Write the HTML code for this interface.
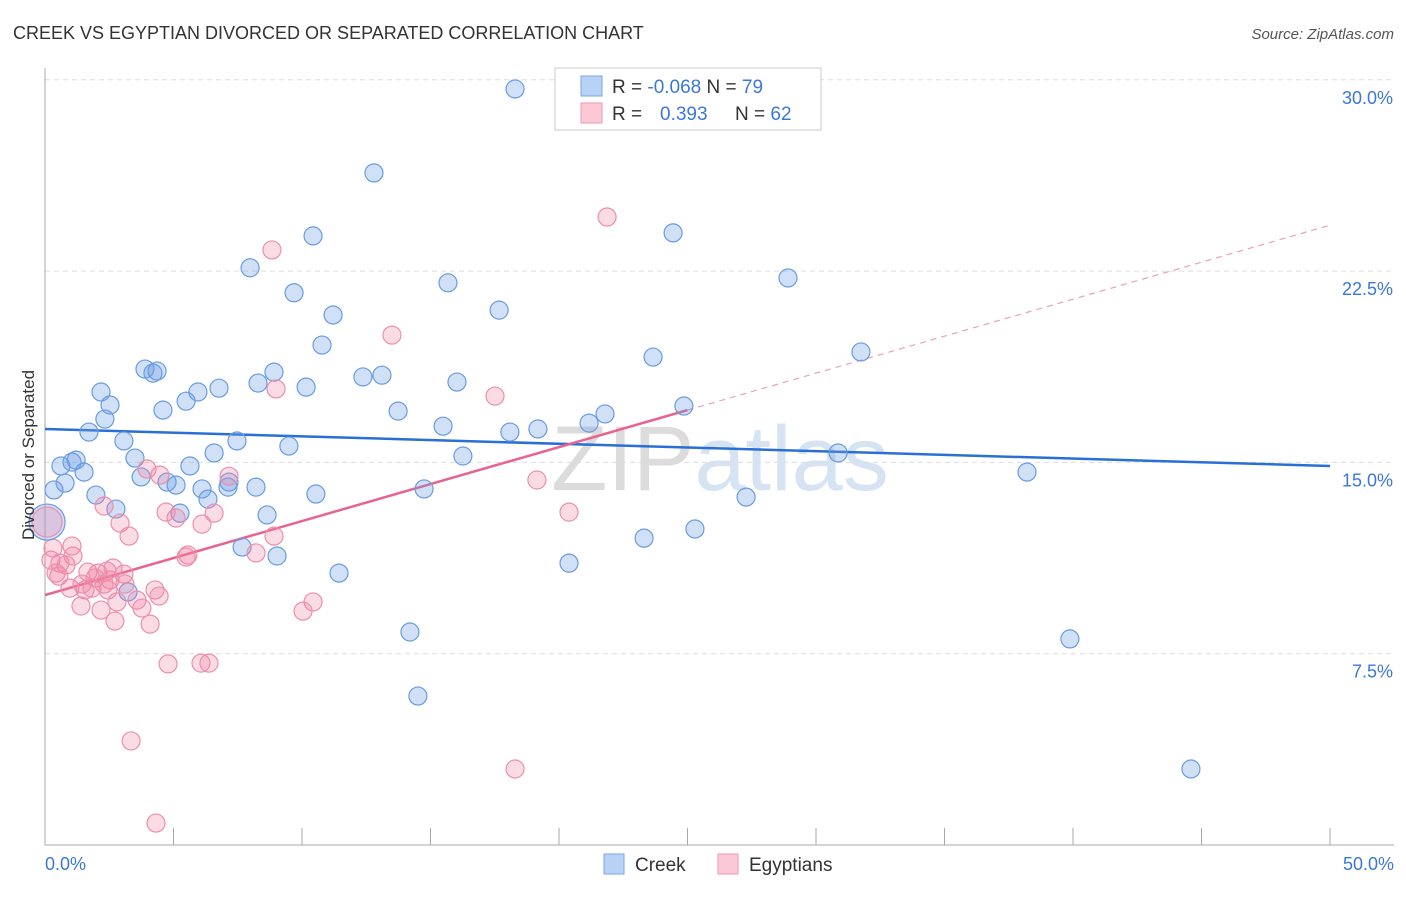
<!DOCTYPE html>
<html><head><meta charset="utf-8"><style>
body{margin:0;background:#fff;font-family:"Liberation Sans",sans-serif}
svg text{font-family:"Liberation Sans",sans-serif}
</style></head><body>
<svg id="chart" width="1406" height="892" viewBox="0 0 1406 892" xmlns="http://www.w3.org/2000/svg">
<text x="13" y="39" font-size="18" fill="#333">CREEK VS EGYPTIAN DIVORCED OR SEPARATED CORRELATION CHART</text>
<text x="1394" y="39" font-size="15" fill="#555" text-anchor="end" font-style="italic">Source: ZipAtlas.com</text>
<text x="720" y="490" font-size="92" fill="#e6e6e6" text-anchor="middle" font-family="Liberation Serif"><tspan fill="#dcdcdc">ZIP</tspan><tspan fill="#d6e3f3" font-family="Liberation Sans">atlas</tspan></text>
<g id="grid"></g>
<g id="axes"></g>
<g id="trends"></g>
<g id="points"></g>
<text transform="translate(34,455) rotate(-90)" font-size="17" fill="#333" text-anchor="middle">Divorced or Separated</text>
<g>
<rect x="555" y="68" width="266" height="62" fill="#fff" stroke="#ccc"/>
<rect x="581" y="76" width="21" height="20" fill="#b8d2f5" stroke="#7aa6e4"/>
<rect x="581" y="103" width="21" height="20" fill="#fcc8d6" stroke="#ee9ab2"/>
<text x="612" y="93" font-size="19" fill="#333">R = <tspan fill="#3b78d6">-0.068</tspan>   N = <tspan fill="#3b78d6">79</tspan></text>
<text x="612" y="120" font-size="19" fill="#333">R =    <tspan fill="#3b78d6" x="660">0.393</tspan><tspan x="735">N = </tspan><tspan fill="#3b78d6">62</tspan></text>
</g>
<g>
<rect x="604" y="854" width="20" height="20" fill="#b8d2f5" stroke="#7aa6e4"/>
<text x="635" y="871" font-size="19" fill="#333">Creek</text>
<rect x="718" y="854" width="20" height="20" fill="#fcc8d6" stroke="#ee9ab2"/>
<text x="749" y="871" font-size="19" fill="#333">Egyptians</text>
</g>
</svg>
<script>
const creekX=[18.29,12.80,10.43,24.44,7.98,15.68,9.69,28.91,17.67,11.21,10.78,23.66,31.75,3.89,4.20,4.36,8.91,12.37,13.11,8.29,10.16,6.77,5.95,2.18,5.49,2.53,16.03,4.59,13.74,2.33,21.17,21.79,24.86,15.49,18.09,19.18,1.71,3.07,7.47,9.49,3.50,6.58,16.26,30.86,1.05,1.21,0.62,1.52,5.64,3.74,38.21,0.78,0.35,4.75,5.10,1.98,7.16,8.21,6.11,7.12,10.54,14.75,6.34,2.76,5.25,8.64,27.28,25.29,23.31,7.67,9.03,20.39,11.44,3.23,14.20,39.88,14.51,44.59];
const creekY=[29.64,26.35,23.88,24.00,22.63,22.04,21.65,22.23,20.97,20.78,19.60,19.13,19.33,18.66,18.50,18.58,18.54,18.35,18.42,18.11,17.95,17.91,17.76,17.76,17.40,17.25,18.15,17.05,17.01,16.70,16.54,16.90,17.21,16.42,16.19,16.31,16.19,15.84,15.84,15.64,15.17,15.37,15.25,15.37,15.01,15.09,14.86,14.62,14.86,14.43,14.62,14.19,13.92,14.23,14.11,13.72,14.23,14.03,13.96,14.03,13.76,13.96,13.56,13.17,13.01,12.94,13.64,12.39,12.03,11.68,11.33,11.05,10.66,9.92,8.35,8.08,5.84,2.98];
const egyX=[21.87,8.83,13.50,8.99,17.51,3.97,4.47,7.16,2.30,4.71,5.10,6.58,2.92,6.11,19.14,20.39,8.91,3.27,1.05,5.49,5.56,8.21,1.09,0.23,0.58,0.82,0.43,1.67,2.06,1.95,2.41,2.65,3.07,2.53,0.54,0.97,1.56,1.83,2.30,3.11,4.28,2.18,1.40,2.80,3.58,3.77,4.44,2.72,4.09,10.43,10.04,4.79,6.07,6.38,3.35,18.29,4.32,0.31,2.45,1.44];
const egyY=[24.62,23.33,19.99,17.88,17.60,14.74,14.50,14.46,13.29,13.05,12.82,13.01,12.62,12.58,14.31,13.05,12.11,12.11,11.72,11.29,11.37,11.45,11.33,11.17,11.05,10.98,10.66,10.70,10.66,10.47,10.74,10.86,10.62,10.39,10.54,10.07,10.00,10.07,10.23,10.23,10.00,9.21,9.37,9.53,9.60,9.29,9.76,8.78,8.66,9.53,9.17,7.10,7.13,7.13,4.08,2.98,0.86,11.64,10.00,10.23];
const bigPoint=[0.08,12.66];
const creekTrend=[16.31,14.86];   // y at x=0 and x=50
const egyTrend=[9.80,24.30];      // y at x=0 and x=50
const egySolidEnd=25;             // solid part ends at this x
const yTicks=[7.5,15,22.5,30];
const yTickLabels=["7.5%","15.0%","22.5%","30.0%"];
const xTicks=[0,5,10,15,20,25,30,35,40,45,50];
const xEndLabels=["0.0%","50.0%"];

const NS="http://www.w3.org/2000/svg";
const X=v=>45+v/50*1285;
const Y=v=>845-v/7.5*191.3;
function mk(tag,attrs,parent){const e=document.createElementNS(NS,tag);for(const k in attrs)e.setAttribute(k,attrs[k]);parent.appendChild(e);return e;}
const grid=document.getElementById('grid'),axes=document.getElementById('axes'),trends=document.getElementById('trends'),pts=document.getElementById('points');
yTicks.forEach((t,i)=>{
  const l=mk('line',{x1:45,x2:1394,y1:Y(t),y2:Y(t),stroke:'#ddd','stroke-dasharray':'5,4'},grid);
  
  
  const tx=mk('text',{x:1393,y:Y(t)+24,'font-size':18,fill:'#3b78d6','text-anchor':'end'},axes);
  tx.textContent=yTickLabels[i];
  
  
});
const ya=mk('line',{x1:45,x2:45,y1:68,y2:845,stroke:'#aaa'},axes);


const xa=mk('line',{x1:45,x2:1394,y1:845,y2:845,stroke:'#aaa'},axes);


xTicks.forEach(t=>{
  const l=mk('line',{x1:X(t),x2:X(t),y1:828,y2:845,stroke:'#aaa'},axes);
  
  
});
const xl0=mk('text',{x:45,y:870,'font-size':18,fill:'#3b78d6'},axes);xl0.textContent=xEndLabels[0];


const xl1=mk('text',{x:1394,y:870,'font-size':18,fill:'#3b78d6','text-anchor':'end'},axes);xl1.textContent=xEndLabels[1];



function dot(x,y,r,blue){
  const c=mk('circle',{cx:X(x),cy:Y(y),r:r,fill:blue?'rgba(110,160,230,0.32)':'rgba(240,130,160,0.28)',stroke:blue?'#6a9be0':'#ec8fab','stroke-width':1.2},pts);
  
  
}
creekX.forEach((x,i)=>dot(x,creekY[i],9,true));
egyX.forEach((x,i)=>dot(x,egyY[i],9,false));
dot(bigPoint[0],bigPoint[1],18,true);
dot(bigPoint[0],bigPoint[1],15,false);

const ct=mk('line',{x1:X(0),y1:Y(creekTrend[0]),x2:X(50),y2:Y(creekTrend[1]),stroke:'#2a6fd6','stroke-width':2.5},trends);


const ey=x=>egyTrend[0]+(egyTrend[1]-egyTrend[0])*x/50;
const es=mk('line',{x1:X(0),y1:Y(ey(0)),x2:X(egySolidEnd),y2:Y(ey(egySolidEnd)),stroke:'#e8638f','stroke-width':2.5},trends);


const ed=mk('line',{x1:X(egySolidEnd),y1:Y(ey(egySolidEnd)),x2:X(50),y2:Y(ey(50)),stroke:'#eaa0b8','stroke-width':1.2,'stroke-dasharray':'6,5'},trends);


</script>
</body></html>
